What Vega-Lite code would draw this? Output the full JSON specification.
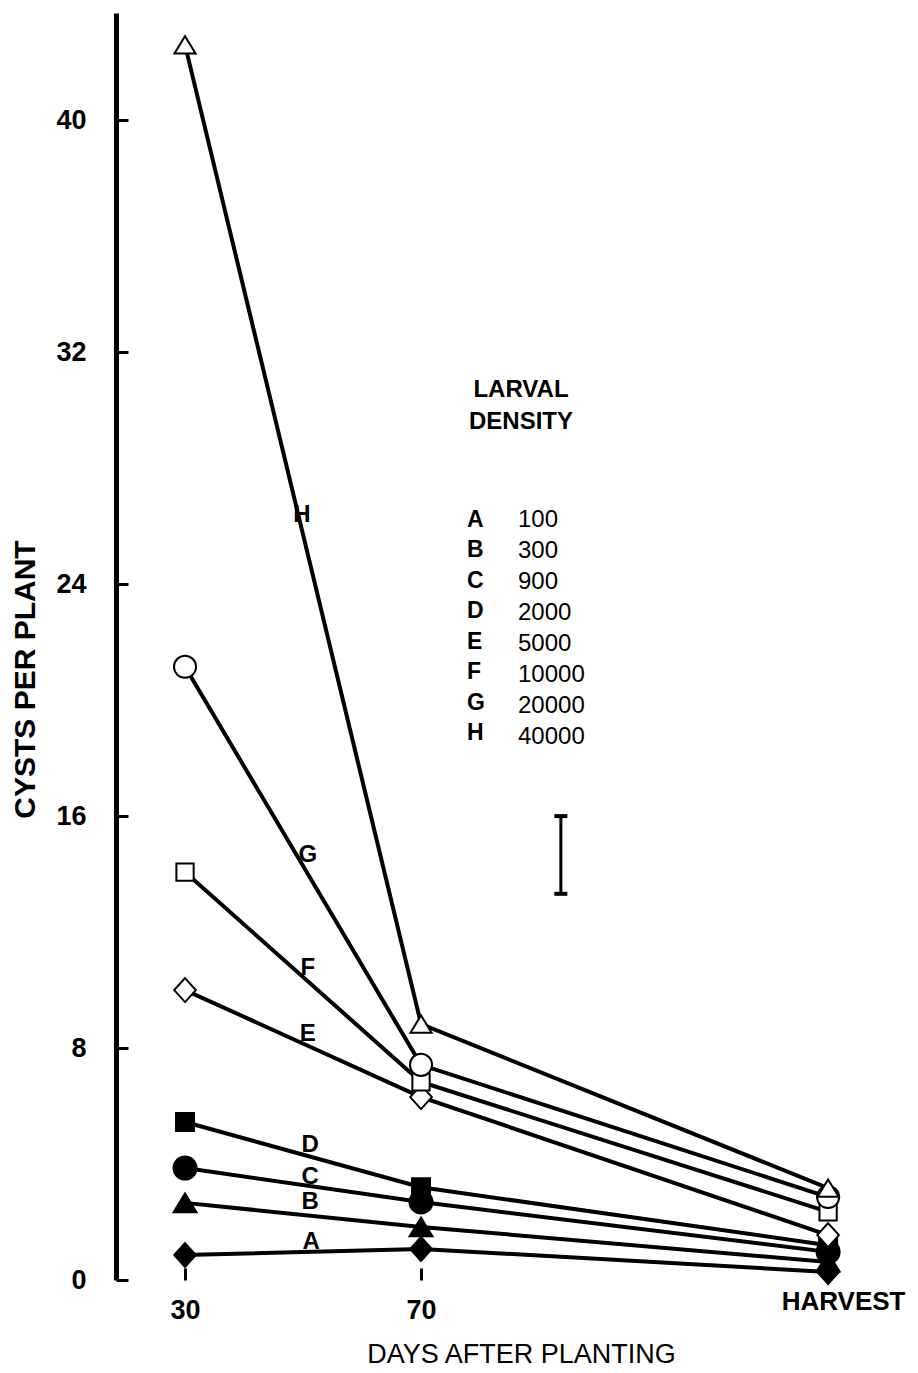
{
  "$schema": "https://vega.github.io/schema/vega-lite/v6.json",
  "autosize": {"type": "none"},
  "width": 777,
  "height": 1267,
  "padding": {"left": 116, "top": 13, "right": 25, "bottom": 93},
  "background": "white",
  "config": {
    "view": {"stroke": null},
    "font": "Liberation Sans",
    "axis": {"grid": false}
  },
  "title": {
    "text": ["LARVAL", "DENSITY"],
    "anchor": "start",
    "frame": "group",
    "align": "center",
    "baseline": "top",
    "dx": 405,
    "dy": 421,
    "offset": 0,
    "font": "Liberation Sans",
    "fontSize": 24,
    "fontWeight": "bold",
    "lineHeight": 32,
    "color": "black"
  },
  "datasets": {
    "cysts": [
      {"series": "A", "density": 100, "day": 30, "cysts": 0.86},
      {"series": "A", "density": 100, "day": 70, "cysts": 1.07},
      {"series": "A", "density": 100, "day": 139, "cysts": 0.28},
      {"series": "B", "density": 300, "day": 30, "cysts": 2.66},
      {"series": "B", "density": 300, "day": 70, "cysts": 1.83},
      {"series": "B", "density": 300, "day": 139, "cysts": 0.62},
      {"series": "C", "density": 900, "day": 30, "cysts": 3.86},
      {"series": "C", "density": 900, "day": 70, "cysts": 2.69},
      {"series": "C", "density": 900, "day": 139, "cysts": 0.97},
      {"series": "D", "density": 2000, "day": 30, "cysts": 5.45},
      {"series": "D", "density": 2000, "day": 70, "cysts": 3.2},
      {"series": "D", "density": 2000, "day": 139, "cysts": 1.2},
      {"series": "E", "density": 5000, "day": 30, "cysts": 10.0},
      {"series": "E", "density": 5000, "day": 70, "cysts": 6.31},
      {"series": "E", "density": 5000, "day": 139, "cysts": 1.55},
      {"series": "F", "density": 10000, "day": 30, "cysts": 14.07},
      {"series": "F", "density": 10000, "day": 70, "cysts": 6.83},
      {"series": "F", "density": 10000, "day": 139, "cysts": 2.35},
      {"series": "G", "density": 20000, "day": 30, "cysts": 21.15},
      {"series": "G", "density": 20000, "day": 70, "cysts": 7.42},
      {"series": "G", "density": 20000, "day": 139, "cysts": 2.86},
      {"series": "H", "density": 40000, "day": 30, "cysts": 42.6},
      {"series": "H", "density": 40000, "day": 70, "cysts": 8.83},
      {"series": "H", "density": 40000, "day": 139, "cysts": 3.17}
    ],
    "labels": [
      {"series": "H", "day": 49.8, "cysts": 26.4},
      {"series": "G", "day": 50.8, "cysts": 14.66},
      {"series": "F", "day": 50.8, "cysts": 10.76},
      {"series": "E", "day": 50.8, "cysts": 8.49},
      {"series": "D", "day": 51.2, "cysts": 4.66},
      {"series": "C", "day": 51.2, "cysts": 3.55},
      {"series": "B", "day": 51.2, "cysts": 2.69},
      {"series": "A", "day": 51.4, "cysts": 1.31}
    ],
    "lsd": [{"day": 93.7, "lo": 13.32, "hi": 16.0}]
  },
  "layer": [
    {
      "mark": {"type": "rule", "color": "black", "strokeWidth": 5},
      "encoding": {
        "x": {
          "datum": 30, "type": "quantitative",
          "scale": {"domain": [18.3, 150], "nice": false, "zero": false},
          "axis": {
            "title": "DAYS AFTER PLANTING",
            "values": [30, 70, 139],
            "labelExpr": "datum.value == 139 ? 'HARVEST' : datum.label",
            "domain": false,
            "grid": false,
            "tickSize": -12,
            "tickWidth": 3,
            "tickColor": "black",
            "labelFont": "Liberation Sans",
            "labelFontWeight": "bold",
            "labelColor": "black",
            "labelFontSize": {"condition": {"test": "datum.value == 139", "value": 26}, "value": 27},
            "labelPadding": {"condition": {"test": "datum.value == 139", "value": 20}, "value": 29},
            "labelOffset": {"condition": {"test": "datum.value == 139", "value": 15}, "value": 0},
            "labelFlush": false,
            "labelOverlap": false,
            "titleFont": "Liberation Sans",
            "titleFontSize": 27,
            "titleFontWeight": "normal",
            "titleColor": "black",
            "titleX": 405,
            "titleY": 74,
            "titleBaseline": "middle",
            "titleAlign": "center"
          }
        },
        "x2": {"datum": 139},
        "y": {
          "datum": 0, "type": "quantitative",
          "scale": {"domain": [0, 43.7], "nice": false, "zero": false},
          "axis": {
            "title": "CYSTS PER PLANT",
            "values": [0, 8, 16, 24, 32, 40],
            "grid": false,
            "domain": true,
            "domainWidth": 5,
            "domainColor": "black",
            "tickSize": -12,
            "tickWidth": 3,
            "tickColor": "black",
            "labelFont": "Liberation Sans",
            "labelFontSize": 27,
            "labelFontWeight": "bold",
            "labelColor": "black",
            "labelPadding": 42,
            "labelFlush": false,
            "labelOverlap": false,
            "titleFont": "Liberation Sans",
            "titleFontSize": 30,
            "titleFontWeight": "bold",
            "titleColor": "black",
            "titleAngle": -90,
            "titleX": -91,
            "titleY": 666,
            "titleBaseline": "middle",
            "titleAlign": "center"
          }
        }
      }
    },
    {
      "data": {"name": "cysts"},
      "mark": {"type": "line", "color": "black", "strokeWidth": 4},
      "encoding": {
        "x": {"field": "day", "type": "quantitative", "scale": {"domain": [18.3, 150], "nice": false, "zero": false}},
        "y": {"field": "cysts", "type": "quantitative", "scale": {"domain": [0, 43.7], "nice": false, "zero": false}},
        "detail": {"field": "series"}
      }
    },
    {
      "data": {"name": "cysts"},
      "mark": {"type": "point", "filled": true, "opacity": 1, "strokeWidth": 2, "size": 576},
      "encoding": {
        "x": {"field": "day", "type": "quantitative", "scale": {"domain": [18.3, 150], "nice": false, "zero": false}},
        "y": {"field": "cysts", "type": "quantitative", "scale": {"domain": [0, 43.7], "nice": false, "zero": false}},
        "shape": {
          "field": "series", "type": "nominal",
          "scale": {
            "domain": ["A", "B", "C", "D", "E", "F", "G", "H"],
            "range": [
              "M0,-1L0.9,0L0,1L-0.9,0Z",
              "M0,-0.78L0.95,0.78L-0.95,0.78Z",
              "M0.96,0A0.96,0.96 0 1,1 -0.96,0A0.96,0.96 0 1,1 0.96,0Z",
              "M-0.75,-0.75L0.75,-0.75L0.75,0.75L-0.75,0.75Z",
              "M0,-1L0.9,0L0,1L-0.9,0Z",
              "M-0.72,-0.72L0.72,-0.72L0.72,0.72L-0.72,0.72Z",
              "M0.92,0A0.92,0.92 0 1,1 -0.92,0A0.92,0.92 0 1,1 0.92,0Z",
              "M0,-0.72L0.88,0.72L-0.88,0.72Z"
            ]
          },
          "legend": {
            "orient": "none",
            "legendX": 328,
            "legendY": 495,
            "title": null,
            "padding": 0,
            "symbolOpacity": 0,
            "symbolSize": 1,
            "symbolStrokeWidth": 0,
            "labelOffset": 0,
            "labelFont": "Liberation Sans",
            "labelFontSize": 23,
            "labelFontWeight": "bold",
            "labelColor": "black",
            "rowPadding": 6.5
          }
        },
        "fill": {
          "field": "series", "type": "nominal",
          "scale": {
            "domain": ["A", "B", "C", "D", "E", "F", "G", "H"],
            "range": ["black", "black", "black", "black", "white", "white", "white", "white"]
          },
          "legend": {
            "orient": "none",
            "legendX": 328,
            "legendY": 495,
            "title": null,
            "padding": 0,
            "symbolOpacity": 0,
            "symbolSize": 1,
            "symbolStrokeWidth": 0,
            "labelOffset": 0,
            "labelFont": "Liberation Sans",
            "labelFontSize": 23,
            "labelFontWeight": "bold",
            "labelColor": "black",
            "rowPadding": 6.5
          }
        },
        "stroke": {
          "field": "density", "type": "ordinal",
          "scale": {"range": ["black"]},
          "legend": {
            "orient": "none",
            "legendX": 378,
            "legendY": 495,
            "title": null,
            "padding": 0,
            "symbolOpacity": 0,
            "symbolSize": 1,
            "symbolStrokeWidth": 0,
            "labelOffset": 0,
            "labelFont": "Liberation Sans",
            "labelFontSize": 24,
            "labelFontWeight": "normal",
            "labelColor": "black",
            "rowPadding": 7
          }
        }
      }
    },
    {
      "data": {"name": "labels"},
      "mark": {"type": "text", "font": "Liberation Sans", "fontSize": 24, "fontWeight": "bold", "color": "black", "align": "center", "baseline": "middle"},
      "encoding": {
        "x": {"field": "day", "type": "quantitative", "scale": {"domain": [18.3, 150], "nice": false, "zero": false}},
        "y": {"field": "cysts", "type": "quantitative", "scale": {"domain": [0, 43.7], "nice": false, "zero": false}},
        "text": {"field": "series"}
      }
    },
    {
      "data": {"name": "lsd"},
      "mark": {"type": "rule", "color": "black", "strokeWidth": 3},
      "encoding": {
        "x": {"field": "day", "type": "quantitative", "scale": {"domain": [18.3, 150], "nice": false, "zero": false}},
        "y": {"field": "lo", "type": "quantitative", "scale": {"domain": [0, 43.7], "nice": false, "zero": false}},
        "y2": {"field": "hi"}
      }
    },
    {
      "data": {"name": "lsd"},
      "mark": {"type": "tick", "orient": "horizontal", "color": "black", "size": 13, "thickness": 4, "opacity": 1},
      "encoding": {
        "x": {"field": "day", "type": "quantitative", "scale": {"domain": [18.3, 150], "nice": false, "zero": false}},
        "y": {"field": "lo", "type": "quantitative", "scale": {"domain": [0, 43.7], "nice": false, "zero": false}}
      }
    },
    {
      "data": {"name": "lsd"},
      "mark": {"type": "tick", "orient": "horizontal", "color": "black", "size": 13, "thickness": 4, "opacity": 1},
      "encoding": {
        "x": {"field": "day", "type": "quantitative", "scale": {"domain": [18.3, 150], "nice": false, "zero": false}},
        "y": {"field": "hi", "type": "quantitative", "scale": {"domain": [0, 43.7], "nice": false, "zero": false}}
      }
    }
  ]
}
